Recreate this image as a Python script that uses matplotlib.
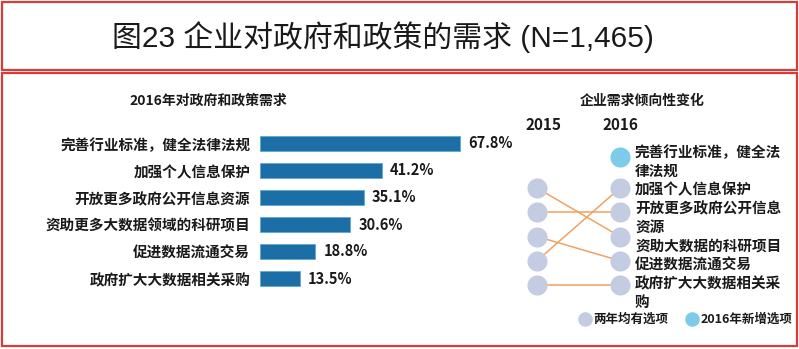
import matplotlib
matplotlib.use("Agg")
from matplotlib import pyplot as plt
from matplotlib.patches import Rectangle

plt.rcParams['font.family'] = ['Noto Sans CJK SC', 'DejaVu Sans']

# data
title = "图23 企业对政府和政策的需求 (N=1,465)"
bar_title = "2016年对政府和政策需求"
bar_labels = ["完善行业标准，健全法律法规", "加强个人信息保护", "开放更多政府公开信息资源",
              "资助更多大数据领域的科研项目", "促进数据流通交易", "政府扩大大数据相关采购"]
bar_values = [67.8, 41.2, 35.1, 30.6, 18.8, 13.5]

slope_title = "企业需求倾向性变化"
year_labels = ["2015", "2016"]
# wrapped labels for 2016 items, in 2016 order
items_2016 = [["完善行业标准，健全法", "律法规"], ["加强个人信息保护"], ["开放更多政府公开信息", "资源"],
              ["资助大数据的科研项目"], ["促进数据流通交易"], ["政府扩大大数据相关采", "购"]]
rank_2015 = [None, 4, 2, 1, 3, 5]   # position in 2015 list (None = new in 2016)
legend_labels = ["两年均有选项", "2016年新增选项"]

BAR_COLOR = "#1c6fa6"
OLD_COLOR = "#c4cce2"
NEW_COLOR = "#7dcbe8"
LINE_COLOR = "#f0a262"
RED = "#d93b3b"
TXT = "#1a1a1a"

W, H = 799, 349
fig = plt.figure(figsize=(W / 100, H / 100), dpi=100)

# overlay axes in pixel units
ax = fig.add_axes([0, 0, 1, 1])
ax.set_xlim(0, W)
ax.set_ylim(H, 0)
ax.axis("off")

ax.add_patch(Rectangle((2, 2), W - 4, 68, fill=False, ec=RED, lw=1.6))
ax.add_patch(Rectangle((2, 73), W - 4, 273, fill=False, ec=RED, lw=1.6))
ax.text(383, 37, title, fontsize=21.5, ha="center", va="center", color=TXT, weight="medium",
        family=["Liberation Sans", "Noto Sans CJK SC"])

# bar chart
top, bottom = 130, 292
ax1 = fig.add_axes([260 / W, (H - bottom) / H, 240 / W, (bottom - top) / H])
y = list(range(len(bar_values)))
bars = ax1.barh(y, bar_values, height=0.56, color=BAR_COLOR, edgecolor="#5fa8d3", linewidth=0.6)
ax1.set_xlim(0, 240 / 2.95)
ax1.set_ylim(len(bar_values) - 0.5, -0.5)
ax1.set_yticks(y, bar_labels, fontsize=10.5, weight="bold", color=TXT)
ax1.tick_params(axis="y", length=0, pad=7)
ax1.set_xticks([])
for s in ax1.spines.values():
    s.set_visible(False)
for b, v in zip(bars, bar_values):
    ax1.annotate(f"{v}%", (b.get_width(), b.get_y() + b.get_height() / 2), xytext=(6, 0),
                 textcoords="offset points", va="center", ha="left",
                 fontsize=10.5, weight="bold", color=TXT)
ax.text(208, 101, bar_title, fontsize=10, weight="bold", ha="center", va="center", color=TXT)

# slope chart (pixel layout)
x15, x16 = 537, 620


def row_y(k):
    return 157 if k == 0 else 188 + (k - 1) * 24.25


ax.text(642, 101, slope_title, fontsize=10, weight="bold", ha="center", va="center", color=TXT)
ax.text(543, 125, year_labels[0], fontsize=11, weight="bold", ha="center", va="center", color=TXT)
ax.text(620, 125, year_labels[1], fontsize=11, weight="bold", ha="center", va="center", color=TXT)

for k, r in enumerate(rank_2015):
    if r is not None:
        ax.plot([x15, x16], [row_y(r), row_y(k)], color=LINE_COLOR, lw=1.1, zorder=2)
        ax.scatter([x15], [row_y(r)], s=210, color=OLD_COLOR, zorder=3, lw=0)
    ax.scatter([x16], [row_y(k)], s=210, color=OLD_COLOR if r is not None else NEW_COLOR,
               zorder=3, lw=0)

line_no = 0
for lines in items_2016:
    for t in lines:
        ax.text(635, 152 + line_no * 18.75, t, fontsize=10.5, weight="bold",
                ha="left", va="center", color=TXT)
        line_no += 1

ax.scatter([585], [319], s=110, color=OLD_COLOR, lw=0)
ax.text(593, 319, legend_labels[0], fontsize=9, weight="bold", ha="left", va="center", color=TXT)
ax.scatter([692], [319], s=110, color=NEW_COLOR, lw=0)
ax.text(701, 319, legend_labels[1], fontsize=9, weight="bold", ha="left", va="center", color=TXT)

fig.savefig("out.png", dpi=100)
